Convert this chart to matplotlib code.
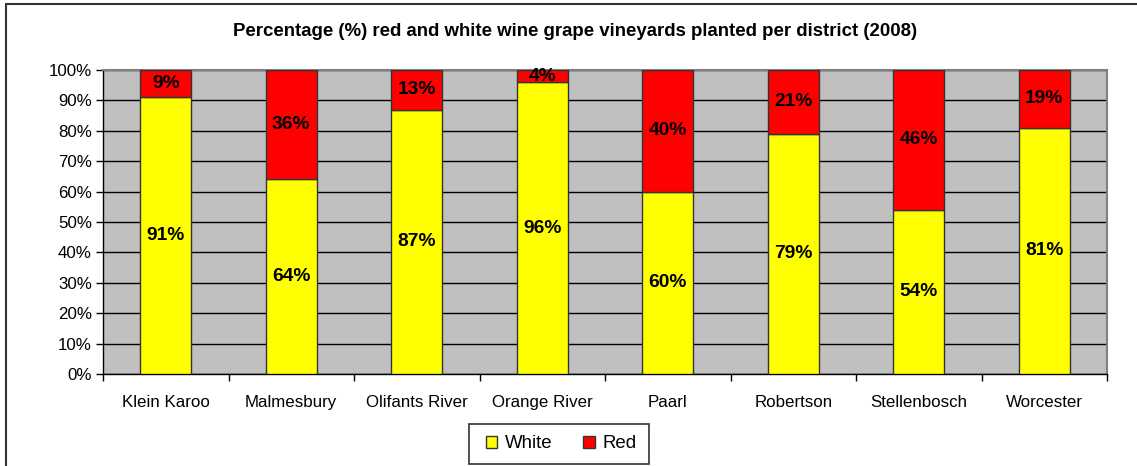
import matplotlib.pyplot as plt
import numpy as np
from matplotlib.patches import Rectangle
from matplotlib.ticker import FixedLocator, PercentFormatter

plt.rcParams['font.family'] = ['Liberation Sans', 'DejaVu Sans']

districts = ['Klein Karoo', 'Malmesbury', 'Olifants River', 'Orange River',
             'Paarl', 'Robertson', 'Stellenbosch', 'Worcester']
white = [91, 64, 87, 96, 60, 79, 54, 81]
red = [9, 36, 13, 4, 40, 21, 46, 19]
yticks = np.arange(0, 101, 10)

W, H = 1137, 466
fig = plt.figure(figsize=(W / 100, H / 100), dpi=100)
ax = fig.add_axes([103 / W, 1 - 374 / H, 1004 / W, 304 / H])
ax.set_facecolor('#C0C0C0')

x = np.arange(len(districts))
w = 0.41
b1 = ax.bar(x, white, w, color='#FFFF00', edgecolor='#333333', linewidth=1, zorder=3, label='White')
b2 = ax.bar(x, red, w, bottom=white, color='#FF0000', edgecolor='#333333', linewidth=1, zorder=3, label='Red')

# value labels in the middle of each segment
for i in range(len(x)):
    ax.text(x[i], white[i] / 2, f'{white[i]}%', ha='center', va='center',
            fontsize=13.8, fontweight='bold', zorder=4)
    ax.text(x[i], white[i] + red[i] / 2, f'{red[i]}%', ha='center', va='center',
            fontsize=13.8, fontweight='bold', zorder=4)

ax.set_xlim(-0.5, len(x) - 0.5)
ax.set_ylim(0, 100)
ax.set_yticks(yticks)
ax.yaxis.set_major_formatter(PercentFormatter(decimals=0))
ax.set_xticks(x)
ax.set_xticklabels(districts)
ax.xaxis.set_minor_locator(FixedLocator(np.arange(-0.5, len(x), 1)))
ax.tick_params(axis='x', which='major', length=0, pad=15, labelsize=12.2)
ax.tick_params(axis='x', which='minor', length=5, width=1, color='black')
ax.tick_params(axis='y', length=5, width=1, labelsize=12.2, pad=3)
ax.yaxis.grid(True, color='black', linewidth=1, zorder=1)
ax.set_axisbelow(True)

for s in ['top', 'right']:
    ax.spines[s].set_color('#808080')
    ax.spines[s].set_linewidth(1.5)
for s in ['left', 'bottom']:
    ax.spines[s].set_color('black')
    ax.spines[s].set_linewidth(1)

fig.text(575 / W, 1 - 32 / H, 'Percentage (%) red and white wine grape vineyards planted per district (2008)',
         ha='center', va='center', fontsize=13.4, fontweight='bold')

# legend entries, with a separate box drawn around them
leg = fig.legend(handles=[b1, b2], loc='center', bbox_to_anchor=(561 / W, 1 - 444 / H),
                 ncol=2, fontsize=13.4, frameon=False,
                 handlelength=0.62, handleheight=0.62, handletextpad=0.4, columnspacing=1.65,
                 borderpad=0, borderaxespad=0)
fig.patches.append(Rectangle((469 / W, 1 - 464 / H), 180 / W, 40 / H, transform=fig.transFigure,
                             fill=True, facecolor='white', edgecolor='#333333', linewidth=1.2, zorder=0))

# chart border
fig.patches.append(Rectangle((6 / W, -0.1), 1.2, 1.1 - 4 / H, transform=fig.transFigure,
                             fill=False, edgecolor='#333333', linewidth=1.5))

fig.savefig('out.png', dpi=100)
